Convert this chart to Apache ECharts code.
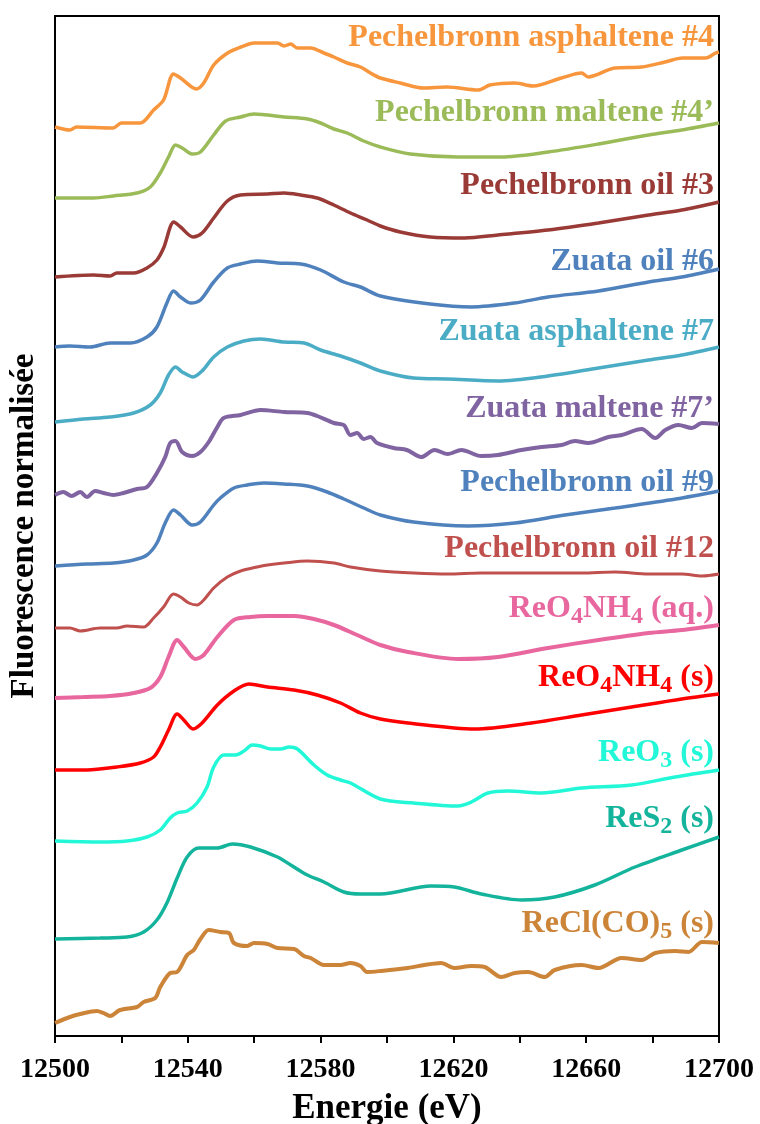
<!DOCTYPE html>
<html>
<head>
<meta charset="utf-8">
<title>Re L3 XANES</title>
<script src="https://cdn.jsdelivr.net/npm/echarts@6/dist/echarts.min.js"></script>
<style>
* { margin:0; padding:0; }
body { background:#fff; }
#chart { width:760px; height:1124px; }
</style>
</head>
<body>
<div id="chart"></div>
<script>
var serif = '"Times New Roman", "Liberation Serif", serif';

// spectres decales (energie eV, intensite + decalage)
var asph4 = [[12500,909],[12504.5,906],[12506.5,909],[12517.5,908],[12520,913],[12525.7,913],[12529.7,926],[12532.7,936],[12535.7,962],[12537.8,958],[12542.6,947],[12544.8,953],[12547.8,971],[12552,983],[12556,989],[12560,993],[12564,993],[12567,993],[12569,990],[12571,992],[12573,988],[12577,988],[12581,983],[12584,979],[12588,973],[12592,969],[12595,963],[12598,958],[12604,953],[12611,948],[12618,949],[12627.5,946],[12631,951],[12638.5,953],[12644,950],[12652.5,958],[12658.6,963],[12660.6,959],[12668.6,968],[12676.7,969],[12683.7,974],[12689,978],[12696,978],[12699,983],[12700,984]];
var malt4 = [[12500,838],[12511.6,838],[12517.6,840],[12524.7,843],[12528.7,849],[12531.7,863],[12534.2,879],[12536.3,891],[12538.3,888],[12541.3,882],[12543.8,884],[12547.8,901],[12551.4,915],[12555.9,919],[12559.9,922],[12569,919],[12576,917],[12580,913],[12584,907],[12588,903],[12593,895],[12598,889],[12607,882],[12621.4,879],[12634.4,879],[12648.5,884],[12663.7,892],[12678.8,901],[12688.8,906],[12700,913]];
var oil3 = [[12500,759],[12511.6,761],[12516.6,760],[12518.6,763],[12523.7,763],[12527.7,768],[12530.7,776],[12532.7,788],[12535.8,814],[12537.8,809],[12541.6,799],[12544.3,803],[12547.8,818],[12551.9,835],[12555.9,841],[12564,842],[12569,843],[12574,841],[12579,838],[12584,831],[12589,823],[12594,816],[12598,810],[12604,804],[12613,799],[12623.4,798],[12633.4,801],[12648.5,806],[12663.7,813],[12678.8,821],[12688.8,826],[12700,834]];
var zoil6 = [[12500,689],[12504.4,690],[12510.6,689],[12516.6,693],[12522.7,693],[12527.7,699],[12530.7,709],[12533.7,733],[12535.7,745],[12537.8,739],[12540.8,733],[12543.8,736],[12547.8,754],[12551.9,768],[12555.9,772],[12560.9,775],[12567,773],[12574,772],[12580,766],[12587,754],[12592,749],[12598,740],[12613,732],[12625.4,729],[12638.5,733],[12648.5,739],[12663.7,745],[12678.8,754],[12688.8,759],[12700,767]];
var zasph7 = [[12500,614],[12508.6,617],[12516.6,619],[12523.7,623],[12528.7,631],[12531.7,643],[12534.2,661],[12536.3,669],[12538.3,664],[12541.6,659],[12544.3,665],[12547.8,679],[12551.9,689],[12556.9,695],[12561.9,697],[12569,694],[12575,693],[12580,686],[12586,680],[12592,673],[12598,665],[12608,658],[12618.3,657],[12633.4,655],[12648.5,660],[12663.7,668],[12678.8,676],[12688.8,681],[12700,689]];
var zmalt7 = [[12500,541],[12502.5,544],[12505,540],[12507.6,544],[12509.6,539],[12512.1,545],[12514.6,543],[12517.6,541],[12520.6,543],[12524.7,547],[12527.7,549],[12530.7,563],[12533.2,579],[12534.7,593],[12536.3,595],[12538.3,584],[12541.3,580],[12543.8,584],[12546.3,594],[12548.9,609],[12550.8,618],[12555.9,621],[12561.9,626],[12569,624],[12576,623],[12579,620],[12584,613],[12587,611],[12589,601],[12591,603],[12593,597],[12595,599],[12597,593],[12602,588],[12606,586],[12610.3,579],[12614.3,586],[12618.3,582],[12622.4,586],[12628.4,580],[12633.4,581],[12640.5,586],[12646.5,589],[12652.6,591],[12656.6,595],[12660.6,593],[12666.7,599],[12670.7,601],[12676.7,607],[12680.8,598],[12683.8,606],[12687.8,611],[12691.8,608],[12694.9,613],[12700,612]];
var oil9 = [[12500,470],[12509.6,472],[12517.6,473],[12523.7,476],[12527.7,481],[12530.7,493],[12533.2,513],[12535.7,526],[12537.8,521],[12541.3,511],[12543.8,514],[12547.8,531],[12549.8,538],[12553.9,548],[12557.9,551],[12562.9,553],[12569,552],[12576,550],[12582,544],[12587,537],[12593,528],[12598,521],[12608,514],[12624.4,510],[12638.5,513],[12653.6,521],[12668.7,528],[12687,537],[12700,545]];
var oil12 = [[12500,408],[12504.5,408],[12507.6,405],[12513.6,408],[12518.6,408],[12521.7,410],[12526.7,409],[12529.7,418],[12532.7,429],[12535.7,442],[12537.8,439],[12540.3,433],[12542.8,431],[12544.8,436],[12547.8,448],[12551.9,459],[12555.9,465],[12560.9,469],[12564,471],[12569,473],[12576,475],[12584,473],[12589,469],[12598,465],[12608,463],[12618.3,462],[12628.4,463],[12643.5,463],[12658.6,463],[12668.7,464],[12678.8,462],[12688.8,462],[12694.9,460],[12700,462]];
var reo4aq = [[12500,338],[12508.6,339],[12516.6,340],[12523.7,343],[12528.7,348],[12531.7,359],[12534.2,379],[12536.8,396],[12538.8,389],[12542.3,377],[12544.8,381],[12548.9,399],[12553.9,416],[12558.9,419],[12564,420],[12572,420],[12578,417],[12584,411],[12591,401],[12598,391],[12606.3,384],[12621.4,377],[12633.4,379],[12648.5,388],[12663.7,396],[12678.8,403],[12688.8,406],[12700,411]];
var reo4s = [[12500,266],[12509.6,266],[12518.6,269],[12525.7,273],[12529.7,279],[12531.7,289],[12534.2,306],[12536.8,322],[12538.8,316],[12541.6,307],[12544.3,313],[12548.9,331],[12553.9,345],[12558.4,352],[12564,349],[12572,346],[12579,341],[12586,333],[12592,323],[12598,317],[12606.3,313],[12626.4,307],[12643.5,313],[12658.6,321],[12673.7,329],[12688.8,337],[12700,342]];
var reo3 = [[12500,195],[12513.6,194],[12521.7,195],[12527.7,199],[12531.7,206],[12534.7,218],[12536.8,223],[12539.8,225],[12542.8,233],[12545.8,249],[12547.8,269],[12550.8,281],[12554.4,281],[12556.9,285],[12559.4,291],[12561.9,290],[12565,287],[12568,287],[12570.5,289],[12573,287],[12578,271],[12582,261],[12586,256],[12589,253],[12598,237],[12608,233],[12621.4,230],[12625.4,234],[12630.4,243],[12636.5,245],[12646.5,243],[12658.6,248],[12673.7,251],[12686.8,259],[12700,266]];
var res2 = [[12500,97],[12513.6,98],[12521.7,99],[12526.7,104],[12530.7,116],[12533.7,133],[12536.8,158],[12539.8,179],[12543.3,188],[12548.9,188],[12553.4,192],[12558.9,189],[12567,179],[12571,171],[12576,161],[12581,154],[12587,144],[12592,142],[12598,142],[12613.3,150],[12620.3,149],[12628.4,142],[12640.5,136],[12650.5,139],[12662.6,151],[12674.7,169],[12688.8,186],[12700,199]];
var recl = [[12500,13],[12504.5,19],[12507.6,22],[12512.6,25],[12514.6,23],[12516.6,20],[12519.6,26],[12524.7,29],[12526.7,34],[12530.2,38],[12531.7,49],[12534.7,63],[12536.8,64],[12539.8,81],[12541.8,86],[12543.8,97],[12546.3,106],[12549.8,104],[12552.4,103],[12553.9,93],[12557.9,90],[12559.9,93],[12564,92],[12567,88],[12572,87],[12575,80],[12577,78],[12581,71],[12586,71],[12589,73],[12592,70],[12594,64],[12598,65],[12606.3,68],[12611.3,71],[12616.3,73],[12620.3,68],[12625.4,70],[12629.4,69],[12634.4,59],[12638.5,63],[12642.5,64],[12647.5,59],[12650.5,66],[12658.6,71],[12663.7,68],[12670.7,78],[12676.7,76],[12680.8,83],[12686.8,85],[12690.8,84],[12694.9,94],[12700,93]];

var spectra = [asph4, malt4, oil3, zoil6, zasph7, zmalt7, oil9, oil12, reo4aq, reo4s, reo3, res2, recl];
var labels = ['{n|Pechelbronn asphaltene #4}', '{n|Pechelbronn maltene #4\u2019}', '{n|Pechelbronn oil #3}',
  '{n|Zuata oil #6}', '{n|Zuata asphaltene #7}', '{n|Zuata maltene #7\u2019}', '{n|Pechelbronn oil #9}',
  '{n|Pechelbronn oil #12}', '{n|ReO}{s|4}{n|NH}{s|4}{n| (aq.)}', '{n|ReO}{s|4}{n|NH}{s|4}{n| (s)}',
  '{n|ReO}{s|3}{n| (s)}', '{n|ReS}{s|2}{n| (s)}', '{n|ReCl(CO)}{s|5}{n| (s)}'];
var colors = ['#F7963C', '#9BBB59', '#9A3A36', '#4F81BD', '#4BACC6', '#8064A2', '#4F81BD',
  '#C0504D', '#E8679F', '#FF0000', '#22F8D8', '#14B49C', '#CC8438'];
var widths = [3.5, 3.5, 3.5, 3.5, 3.5, 4, 3.5, 3, 4, 3.5, 3.5, 3.5, 4];
var labelBase = [47, 122, 195, 271, 341, 418, 492, 558, 618, 687, 762, 828, 933]; // ligne de base du texte (px)

var chart = echarts.init(document.getElementById('chart'));

var series = [];
var graphics = [];
for (var i = 0; i < spectra.length; i++) {
  series.push({
    type: 'line',
    data: spectra[i],
    smooth: 0.3,
    symbol: 'none',
    lineStyle: { color: colors[i], width: widths[i] },
    z: 3
  });
  graphics.push({
    type: 'text',
    x: 714,
    y: labelBase[i] - 25,
    style: {
      text: labels[i],
      align: 'right',
      verticalAlign: 'top',
      fill: colors[i],
      rich: {
        n: { fontSize: 32, fontWeight: 'bold', fontFamily: serif, lineHeight: 32, verticalAlign: 'top', fill: colors[i] },
        s: { fontSize: 24, fontWeight: 'bold', fontFamily: serif, lineHeight: 36, verticalAlign: 'bottom', fill: colors[i] }
      }
    }
  });
}

var option = {
  animation: false,
  backgroundColor: '#fff',
  grid: {
    left: 55, right: 41, top: 16, bottom: 88,
    outerBoundsMode: 'none', containLabel: false,
    show: true, borderColor: '#000', borderWidth: 2, backgroundColor: 'transparent'
  },
  xAxis: {
    type: 'value',
    min: 12500,
    max: 12700,
    interval: 20,
    name: 'Energie (eV)',
    nameLocation: 'middle',
    nameGap: 55,
    nameTextStyle: { fontFamily: serif, fontWeight: 'bold', fontSize: 35, color: '#000', verticalAlign: 'top' },
    axisLine: { lineStyle: { color: '#000', width: 2 } },
    axisTick: { inside: false, length: 7, lineStyle: { color: '#000', width: 2 } },
    axisLabel: {
      margin: 20,
      fontFamily: serif, fontWeight: 'bold', fontSize: 28, color: '#000',
      formatter: function (v) { return (v - 12500) % 40 === 0 ? String(v) : ''; }
    },
    splitLine: { show: false }
  },
  yAxis: {
    type: 'value',
    min: 0,
    max: 1020,
    name: 'Fluorescence normalisée',
    nameLocation: 'middle',
    nameGap: 14,
    nameTextStyle: { fontFamily: serif, fontWeight: 'bold', fontSize: 33, color: '#000' },
    axisLine: { show: true, lineStyle: { color: '#000', width: 2 } },
    axisTick: { show: false },
    axisLabel: { show: false },
    splitLine: { show: false }
  },
  series: series,
  graphic: graphics
};
chart.setOption(option);
</script>
</body>
</html>
